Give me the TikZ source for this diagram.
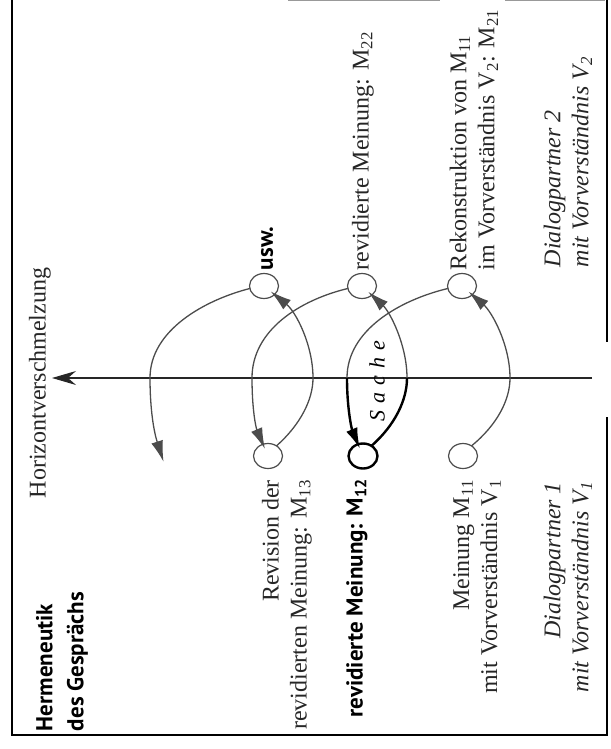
\documentclass[tikz,border=0pt]{standalone}
\usepackage{fontspec}
\setmainfont{Liberation Serif}
\newfontfamily\sansb{PT Sans}
\usetikzlibrary{arrows.meta,shapes.geometric}
\begin{document}
\begin{tikzpicture}[x=1pt,y=-1pt,
  every node/.style={inner sep=0pt, outer sep=0pt},
  lab/.style={rotate=90, text=black!85, font=\fontsize{24}{28}\selectfont},
  ilab/.style={lab, font=\itshape\fontsize{24}{28}\selectfont},
  blab/.style={rotate=90, text=black, font=\sansb\bfseries\fontsize{23}{31}\selectfont},
  circ/.style={ellipse, draw=black!70, line width=1.2pt, minimum width=29pt, minimum height=25pt},
  bcirc/.style={circ, draw=black, line width=2.4pt},
  arc/.style={draw=black!70, line width=1.3pt},
  barc/.style={draw=black, line width=2.4pt},
  tip/.style={-{Latex[length=21pt,width=12pt]}, shorten >=-5pt},
  frame/.style={line width=1.8pt, black},
  axis/.style={line width=1.1pt, black!85, -{Stealth[length=24pt,width=14pt,inset=8pt]}}
]
\useasboundingbox (0,0) rectangle (610,749);

% frame
\draw[frame] (607,0) -- (607,342);
\draw[frame] (607,417) -- (607,735) -- (12,735) -- (12,0);
\draw[black!40, line width=1pt] (288,1) -- (440,1);
\draw[black!40, line width=1pt] (505,1) -- (605,1);

% axis
\coordinate (ax0) at (592,378);
\coordinate (ax1) at (52,378);
\draw[axis] (ax0) -- (ax1);
\node[lab] (hv) at (40,383) {Horizontverschmelzung};

% title
\node[blab, anchor=west, align=left] (title) at (62,731) {Hermeneutik\\des Gesprächs};

% circles
\node[circ] (At) at (264,286) {};
\node[circ] (Bt) at (362,286) {};
\node[circ] (Ct) at (462,286) {};
\node[circ] (Ab) at (268,456) {};
\node[bcirc] (Bb) at (363,456) {};
\node[circ] (Cb) at (463,456) {};

% axis crossings
\coordinate (x5) at (150,378);
\coordinate (x3) at (252,378);
\coordinate (x4) at (313,378);
\coordinate (xa) at (347,378);
\coordinate (xb) at (407,378);
\coordinate (x1) at (510,378);
\coordinate (e5) at (162,457);

% connectors
\draw[arc,tip] (At.190) .. controls (205,300) and (150,330) .. (x5) .. controls (150,410) and (154,432) .. (e5);
\draw[arc,tip] (Bt.190) .. controls (300,300) and (252,330) .. (x3) .. controls (252,410) and (256,428) .. (Ab);
\draw[arc,tip] (Ab.50) .. controls (300,425) and (313,400) .. (x4) .. controls (313,345) and (296,312) .. (At);
\draw[arc] (Ct.190) .. controls (400,300) and (347,330) .. (xa);
\draw[barc,tip] (xa) .. controls (347,410) and (352,430) .. (Bb);
\draw[barc] (Bb.50) .. controls (395,425) and (407,400) .. (xb);
\draw[arc,tip] (xb) .. controls (407,345) and (390,312) .. (Bt);
\draw[arc,tip] (Cb.50) .. controls (497,425) and (510,400) .. (x1) .. controls (510,345) and (492,312) .. (Ct);

\node[rotate=90, font=\itshape\fontsize{22}{22}\selectfont] (sache) at (377,381) {S\hspace{7pt}a\hspace{7pt}c\hspace{7pt}h\hspace{7pt}e};

% top labels
\node[blab, anchor=west] (usw) at (267,270) {usw.};
\node[lab, anchor=west] (m22) at (363,270) {revidierte Meinung: M\textsubscript{22}};
\node[lab, anchor=west, align=left] (rek) at (474,270) {Rekonstruktion von M\textsubscript{11}\\im Vorverständnis V\textsubscript{2}: M\textsubscript{21}};
\node[ilab, anchor=west, align=left] (dp2) at (568,267) {Dialogpartner 2\\mit Vorverständnis V\textsubscript{2}};

% bottom labels
\node[lab, anchor=east, align=right] (rev) at (287,480) {Revision der\\revidierten Meinung: M\textsubscript{13}};
\node[blab, anchor=east] (m12) at (357,479) {revidierte Meinung: M\textsubscript{12}};
\node[lab, anchor=east, align=right] (m11) at (477,480) {Meinung M\textsubscript{11}\\mit Vorverständnis V\textsubscript{1}};
\node[ilab, anchor=east, align=right] (dp1) at (568,482) {Dialogpartner 1\\mit Vorverständnis V\textsubscript{1}};
\end{tikzpicture}
\end{document}
